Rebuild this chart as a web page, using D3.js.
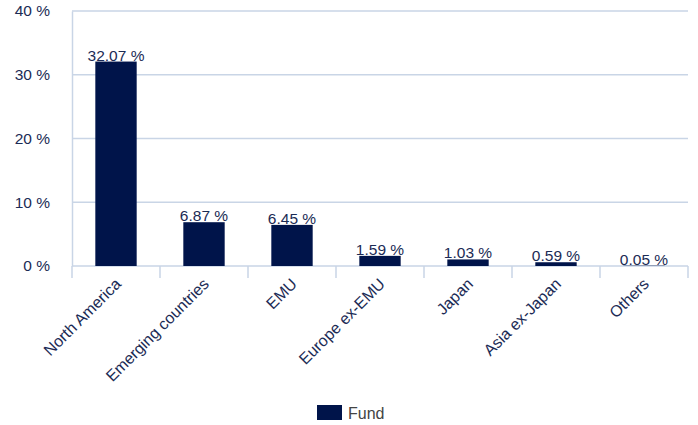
<!DOCTYPE html>
<html>
<head>
<meta charset="utf-8">
<script src="https://cdn.jsdelivr.net/npm/d3@7"></script>
<style>
  body { margin: 0; background: #fff; }
  svg text { font-family: "Liberation Sans", Arial, sans-serif; }
</style>
</head>
<body>
<div id="chart"></div>
<script>
const categories = ['North America', 'Emerging countries', 'EMU', 'Europe ex-EMU', 'Japan', 'Asia ex-Japan', 'Others'];
const fundValues = [32.07, 6.87, 6.45, 1.59, 1.03, 0.59, 0.05];
const yTicks = [0, 10, 20, 30, 40];
const seriesName = 'Fund';

const W = 698, H = 425;
const margin = {top: 11, right: 10, bottom: 159, left: 72};
const width = W - margin.left - margin.right;
const height = H - margin.top - margin.bottom;

const navy = '#00144a';
const textColor = '#1b2b55';
const gridColor = '#c9d5e6';

const svg = d3.select('#chart')
    .append('svg')
    .attr('width', W)
    .attr('height', H)
    .append('g')
    .attr('transform', `translate(${margin.left}, ${margin.top})`);

const x = d3.scaleBand()
    .domain(categories)
    .range([0, width]);

const y = d3.scaleLinear()
    .domain([0, 40])
    .range([height, 0]);

// gridlines
svg.selectAll('.grid')
    .data(yTicks)
    .join('line')
    .attr('x1', 0)
    .attr('x2', width)
    .attr('y1', d => y(d))
    .attr('y2', d => y(d))
    .attr('stroke', gridColor)
    .attr('stroke-width', 1.5);

// y axis
const yAxis = svg.append('g')
    .call(d3.axisLeft(y).tickValues(yTicks).tickSize(0).tickPadding(22).tickFormat(d => d + ' %'));
yAxis.select('.domain').attr('stroke', gridColor).attr('stroke-width', 1.5);
yAxis.selectAll('text').attr('fill', textColor).style('font-size', '15.5px');

// x axis tick marks at band edges
const edges = categories.map(c => x(c)).concat([width]);
svg.selectAll('.xtick')
    .data(edges)
    .join('line')
    .attr('x1', d => d)
    .attr('x2', d => d)
    .attr('y1', height)
    .attr('y2', height + 12)
    .attr('stroke', gridColor)
    .attr('stroke-width', 1.5);

// bars
const barW = x.bandwidth() * 0.47;
svg.selectAll('.bar')
    .data(fundValues)
    .join('rect')
    .attr('x', (d, i) => x(categories[i]) + (x.bandwidth() - barW) / 2)
    .attr('y', d => y(d))
    .attr('width', barW)
    .attr('height', d => height - y(d))
    .attr('fill', navy);

// value labels
svg.selectAll('.valueLabel')
    .data(fundValues)
    .join('text')
    .attr('x', (d, i) => x(categories[i]) + x.bandwidth() / 2)
    .attr('y', d => y(d) - 1)
    .attr('text-anchor', 'middle')
    .attr('fill', textColor)
    .style('font-size', '15.5px')
    .text(d => d.toFixed(2) + ' %');

// category labels
svg.selectAll('.catLabel')
    .data(categories)
    .join('text')
    .attr('text-anchor', 'end')
    .attr('fill', textColor)
    .style('font-size', '16px')
    .attr('transform', d => `translate(${x(d) + x.bandwidth() / 2 + 6}, ${height + 19}) rotate(-45)`)
    .text(d => d);

// legend
const legend = svg.append('g')
    .attr('transform', `translate(${317 - margin.left}, ${405 - margin.top})`);
legend.append('rect')
    .attr('width', 25)
    .attr('height', 15)
    .attr('fill', navy);
legend.append('text')
    .attr('x', 31)
    .attr('y', 14)
    .attr('fill', '#444')
    .style('font-size', '16px')
    .text(seriesName);
</script>
</body>
</html>
